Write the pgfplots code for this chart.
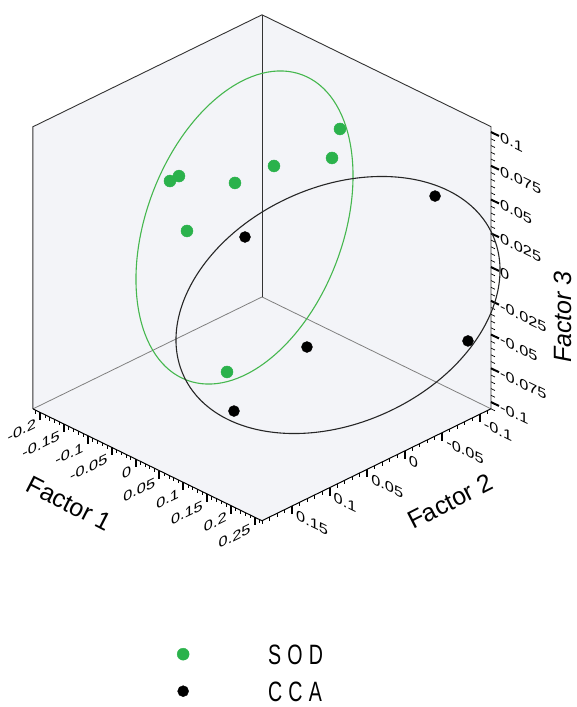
\documentclass[border=0pt]{standalone}
\usepackage{fontspec}
\setmainfont{Liberation Sans}
\newfontfamily\legfont[FakeStretch=0.7,LetterSpace=22]{Liberation Sans}
\usepackage{pgfplots}
\pgfplotsset{compat=1.18}
\definecolor{sodgreen}{HTML}{2BB24C}
\definecolor{ellgreen}{HTML}{45B74E}
\definecolor{wall}{HTML}{F3F4F8}
\tikzset{
  xlab/.style={anchor=east, inner sep=0pt, font=\fontsize{14}{14}\selectfont, cm={1.167,0.571,0,1,(0pt,0pt)}},
  ylab/.style={anchor=west, inner sep=0pt, font=\fontsize{14}{14}\selectfont, cm={1.167,-0.571,0,1,(0pt,0pt)}},
}
\begin{document}
\begin{tikzpicture}
\begin{axis}[
  hide axis, clip=false,
  x={(477pt,-233pt)}, y={(-751pt,-367pt)}, z={(0pt,1350pt)},
  xmin=-0.215, xmax=0.265, ymin=-0.115, ymax=0.19, zmin=-0.105, zmax=0.104,
  legend style={draw=none, fill=none, at={(0.3144,-0.2436)}, anchor=north west,
    row sep=17pt, inner sep=0pt, nodes={inner sep=0pt, anchor=west, text height=20pt, text depth=0pt},
    font=\legfont\fontsize{28}{28}\selectfont},
  legend image code/.code={\draw[#1] plot coordinates {(0pt,0pt)};},
]
\coordinate (O) at (axis cs:0,0,0);
% walls
\fill[wall] (axis cs:-0.215,0.19,-0.105) -- (axis cs:-0.215,-0.115,-0.105) -- (axis cs:0.265,-0.115,-0.105) -- (axis cs:0.265,0.19,-0.105) -- cycle;
\fill[wall] (axis cs:-0.215,0.19,-0.105) -- (axis cs:-0.215,-0.115,-0.105) -- (axis cs:-0.215,-0.115,0.104) -- (axis cs:-0.215,0.19,0.104) -- cycle;
\fill[wall] (axis cs:-0.215,-0.115,-0.105) -- (axis cs:0.265,-0.115,-0.105) -- (axis cs:0.265,-0.115,0.104) -- (axis cs:-0.215,-0.115,0.104) -- cycle;
% box edges
\draw[black!50, line width=0.8pt] (axis cs:-0.215,0.19,-0.105) -- (axis cs:-0.215,-0.115,-0.105) -- (axis cs:0.265,-0.115,-0.105);
\draw[black!80, line width=0.9pt] (axis cs:-0.215,0.19,-0.105) -- (axis cs:-0.215,0.19,0.104) -- (axis cs:-0.215,-0.115,0.104) -- (axis cs:0.265,-0.115,0.104) -- (axis cs:0.265,-0.115,-0.105);
\draw[black!80, line width=0.9pt] (axis cs:-0.215,-0.115,0.104) -- (axis cs:-0.215,-0.115,-0.105);
\draw[black, line width=1pt] (axis cs:-0.215,0.19,-0.105) -- (axis cs:0.265,0.19,-0.105) -- (axis cs:0.265,-0.115,-0.105);
% Factor 1 ticks
\pgfplotsinvokeforeach{-21,...,26}{\draw[line width=0.7pt] ([shift={({#1*4.77pt},{-1*#1*2.33pt})}]axis cs:0,0.19,-0.105) -- ++(0pt,-3.5pt);}
\pgfplotsinvokeforeach{-4,...,5}{\draw[line width=2pt] ([shift={({#1*23.85pt},{-1*#1*11.65pt})}]axis cs:0,0.19,-0.105) -- ++(0pt,-8pt);}
\pgfplotsinvokeforeach{-0.2,-0.15,-0.1,-0.05,0,0.05,0.1,0.15,0.2,0.25}{
  \node[xlab] at ([shift={(-4pt,-11pt)}]axis cs:#1,0.19,-0.105) {#1};
}
% Factor 2 ticks
\pgfplotsinvokeforeach{-11,...,19}{\draw[line width=0.7pt] ([shift={({-1*#1*7.51pt},{-1*#1*3.67pt})}]axis cs:0.265,0,-0.105) -- ++(0pt,-3.5pt);}
\pgfplotsinvokeforeach{-2,...,3}{\draw[line width=2pt] ([shift={({-1*#1*37.55pt},{-1*#1*18.35pt})}]axis cs:0.265,0,-0.105) -- ++(0pt,-8pt);}
\pgfplotsinvokeforeach{-0.1,-0.05,0,0.05,0.1,0.15}{
  \node[ylab] at ([shift={(4pt,-9pt)}]axis cs:0.265,#1,-0.105) {#1};
}
% Factor 3 ticks
\pgfplotsinvokeforeach{-21,...,20}{\draw[line width=0.7pt] ([shift={(0pt,{#1*6.75pt})}]axis cs:0.265,-0.115,0) -- ++(4pt,-1.95pt);}
\pgfplotsinvokeforeach{-4,...,4}{\draw[line width=2pt] ([shift={(0pt,{#1*33.75pt})}]axis cs:0.265,-0.115,0) -- ++(8pt,-3.9pt);}
\pgfplotsinvokeforeach{-0.1,-0.075,-0.05,-0.025,0,0.025,0.05,0.075,0.1}{
  \node[ylab] at ([shift={(9pt,-4.5pt)}]axis cs:0.265,-0.115,#1) {#1};
}
% axis titles
\node[font=\fontsize{25}{25}\selectfont, rotate=-27] at ([shift={(-209pt,-256pt)}]axis cs:0,0,0) {Factor 1};
\node[font=\fontsize{25}{25}\selectfont, rotate=27] at ([shift={(172pt,-254pt)}]axis cs:0,0,0) {Factor 2};
\node[font=\fontsize{25}{25}\selectfont\itshape, rotate=90] at ([shift={(284.5pt,-69.5pt)}]axis cs:0,0,0) {Factor 3};
% ellipses
\draw[ellgreen, line width=1.1pt] ([shift={(-33.7pt,20pt)}]axis cs:0,0,0) ellipse [x radius=98.2pt, y radius=163.2pt, rotate=-20.75];
\draw[black!85, line width=1.1pt] ([shift={(59.8pt,-57.5pt)}]axis cs:0,0,0) ellipse [x radius=169.8pt, y radius=118pt, rotate=24.65];
% data
\addplot3[only marks, mark=*, mark size=6pt, color=sodgreen] coordinates {
(0.05,-0.0505,0.0827) (0.05,-0.0399,0.0641) (0,0.0056,0.0619) (-0.05,0.0258,0.0462)
(-0.1,0.0686,0.0543) (-0.1,0.0806,0.0539) (-0.05,0.0897,0.0280) (0.05,0.0999,-0.0564)};
\addlegendentry{\hspace*{79pt}SOD}
\addplot3[only marks, mark=*, mark size=5.5pt, color=black] coordinates {
(-0.05,0.01245,0.00253) (0.2,-0.0818,0.0504) (0.25,-0.0939,-0.0516) (0.1,0.0252,-0.0496) (0.1,0.1224,-0.0706)};
\addlegendentry{\hspace*{79pt}CCA}
\end{axis}
\pgfresetboundingbox
\path[use as bounding box] ([shift={(-278.2pt,247.5pt)}]O) rectangle ([shift={(297.8pt,-459.5pt)}]O);
\end{tikzpicture}
\end{document}
